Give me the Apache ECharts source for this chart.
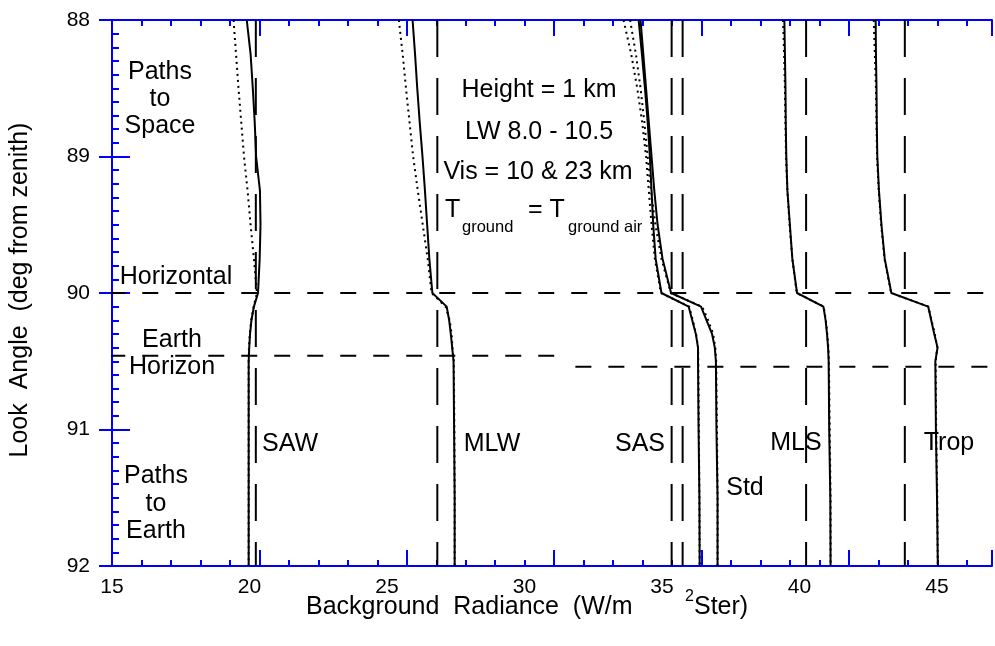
<!DOCTYPE html>
<html>
<head>
<meta charset="utf-8">
<script src="https://cdn.jsdelivr.net/npm/echarts@6/dist/echarts.min.js"></script>
<style>
html,body{margin:0;padding:0;background:#fff;}
#chart{width:995px;height:646px;}
</style>
</head>
<body>
<div id="chart"></div>
<script>
// ---------------- data ----------------
const lookAngles = [88, 88.25, 88.5, 88.75, 89, 89.25, 89.5, 89.75, 90, 90.1, 90.2, 90.3, 90.4, 90.5, 91, 91.5, 92];

const sawSolid  = [19.90, 20.04, 20.12, 20.19, 20.24, 20.38, 20.40, 20.37, 20.31, 20.16, 20.07, 20.02, 19.99, 19.97, 19.97, 19.97, 19.97];
const sawDotted = [19.42, 19.51, 19.60, 19.70, 19.80, 19.93, 20.04, 20.16, 20.27, 20.15, 20.06, 20.01, 19.98, 19.97, 19.97, 19.97, 19.97];
const mlwSolid  = [25.93, 26.02, 26.10, 26.19, 26.29, 26.38, 26.46, 26.54, 26.65, 27.17, 27.26, 27.32, 27.37, 27.42, 27.44, 27.46, 27.46];
const mlwDotted = [25.43, 25.57, 25.69, 25.82, 25.95, 26.12, 26.30, 26.48, 26.62, 27.13, 27.28, 27.35, 27.38, 27.43, 27.45, 27.46, 27.46];
const sasSolid  = [34.15, 34.27, 34.38, 34.48, 34.56, 34.62, 34.68, 34.77, 34.98, 35.97, 36.10, 36.23, 36.31, 36.31, 36.33, 36.36, 36.37];
const sasDotted = [33.60, 33.88, 34.10, 34.28, 34.42, 34.52, 34.62, 34.74, 34.96, 35.99, 36.12, 36.24, 36.31, 36.32, 36.34, 36.36, 36.37];
const stdSolid  = [34.22, 34.32, 34.42, 34.52, 34.62, 34.72, 34.84, 35.02, 35.33, 36.42, 36.62, 36.82, 36.92, 36.96, 36.98, 37.02, 37.02];
const stdDotted = [33.84, 34.05, 34.22, 34.36, 34.48, 34.60, 34.76, 34.98, 35.32, 36.46, 36.68, 36.86, 36.94, 36.97, 37.00, 37.02, 37.02];
const mlsSolid  = [39.45, 39.47, 39.49, 39.50, 39.52, 39.56, 39.65, 39.74, 39.91, 40.87, 40.95, 41.00, 41.04, 41.06, 41.08, 41.12, 41.13];
const mlsDotted = [39.40, 39.44, 39.47, 39.49, 39.51, 39.56, 39.64, 39.74, 39.90, 40.88, 40.96, 41.01, 41.05, 41.07, 41.10, 41.13, 41.13];
const tropSolid = [42.77, 42.78, 42.80, 42.81, 42.83, 42.89, 42.98, 43.10, 43.34, 44.68, 44.79, 44.90, 45.02, 44.94, 44.96, 45.00, 45.03];
const tropDotted= [42.70, 42.74, 42.78, 42.80, 42.82, 42.88, 42.97, 43.09, 43.33, 44.69, 44.80, 44.92, 45.01, 44.95, 44.97, 45.01, 45.03];

const atmospheres = ['SAW', 'MLW', 'SAS', 'Std', 'MLS', 'Trop'];
const groundAirRadiance = [20.23, 26.83, 35.35, 35.75, 40.24, 43.83];

const horizontalAngle = 90;
const earthHorizonAngles = [90.46, 90.54];
const earthHorizonXRanges = [[14.9, 31.56], [31.85, 47]];

const xTickLabels = [15, 20, 25, 30, 35, 40, 45];
const yTickLabels = [88, 89, 90, 91, 92];

// ---------------- chart ----------------
const FONT = 'Liberation Sans, Arial, Helvetica, sans-serif';
const BLUE = '#0000ff';
const chart = echarts.init(document.getElementById('chart'), null, {renderer: 'canvas'});

function pairs(xs) { return xs.map((v, i) => [v, lookAngles[i]]); }

const curveSets = [
  [sawSolid, sawDotted], [mlwSolid, mlwDotted], [sasSolid, sasDotted],
  [stdSolid, stdDotted], [mlsSolid, mlsDotted], [tropSolid, tropDotted]
];

const series = [];
// vertical dashed ground-air lines
groundAirRadiance.forEach((r, i) => {
  series.push({
    name: atmospheres[i] + ' Tground air', type: 'line', xAxisIndex: 0, yAxisIndex: 0,
    data: [[r, yTickLabels[0]], [r, yTickLabels[yTickLabels.length - 1]]],
    symbol: 'none', silent: true, z: 2,
    lineStyle: {color: '#000', width: 2, type: [37, 21]}
  });
});
// horizontal dashed lines
series.push({
  name: 'Horizontal', type: 'line', data: [[14.9, horizontalAngle], [47, horizontalAngle]],
  symbol: 'none', silent: true, z: 2, clip: false, lineStyle: {color: '#000', width: 2, type: [16, 17]}
});
earthHorizonAngles.forEach((a, i) => {
  series.push({
    name: 'Earth Horizon ' + i, type: 'line',
    data: [[earthHorizonXRanges[i][0], a], [earthHorizonXRanges[i][1], a]],
    symbol: 'none', silent: true, z: 2, clip: false, lineStyle: {color: '#000', width: 2, type: [16, 17]}
  });
});
// radiance curves
curveSets.forEach((set, i) => {
  series.push({
    name: atmospheres[i] + ' 10 km', type: 'line', data: pairs(set[1]),
    symbol: 'none', z: 3, lineStyle: {color: '#000', width: 2, type: [2, 4]}
  });
  series.push({
    name: atmospheres[i] + ' 23 km', type: 'line', data: pairs(set[0]),
    symbol: 'none', z: 4, lineStyle: {color: '#000', width: 2, type: 'solid'}
  });
});

const tickAxisBase = {
  type: 'value', min: 0, max: 29.85, interval: 5,
  axisLabel: {show: false},
  axisLine: {show: true, lineStyle: {color: BLUE, width: 2}},
  axisTick: {show: true, inside: true, length: 16, lineStyle: {color: BLUE, width: 2}},
  minorTick: {show: true, splitNumber: 5, length: 6, lineStyle: {color: BLUE, width: 2}},
  splitLine: {show: false}, minorSplitLine: {show: false}
};

const textStyle = (x, y, txt, size, extra) => Object.assign({
  type: 'text', x: x, y: y, silent: true,
  style: Object.assign({text: txt, fill: '#000', font: size + 'px ' + FONT, textAlign: 'center', textVerticalAlign: 'middle'}, extra || {})
});

const option = {
  animation: false,
  backgroundColor: '#fff',
  grid: {left: 112, top: 20, width: 884, height: 546, containLabel: false},
  xAxis: [
    {
      type: 'value', position: 'bottom', min: 15, max: 47, interval: 5,
      axisLine: {show: false}, axisTick: {show: false}, splitLine: {show: false},
      axisLabel: {
        show: true, margin: 11, color: '#000', fontSize: 21, fontFamily: FONT,
        formatter: v => (xTickLabels.indexOf(v) >= 0 ? String(v) : '')
      }
    },
    Object.assign({position: 'bottom'}, tickAxisBase),
    Object.assign({position: 'top'}, tickAxisBase)
  ],
  yAxis: [
    {
      type: 'value', position: 'left', min: 88, max: 92, interval: 1, inverse: true,
      axisLine: {show: true, lineStyle: {color: BLUE, width: 2}},
      axisTick: {show: true, inside: true, length: 18, lineStyle: {color: BLUE, width: 2}},
      minorTick: {show: true, splitNumber: 10, length: 7, lineStyle: {color: BLUE, width: 2}},
      splitLine: {show: false},
      axisLabel: {
        show: true, margin: 22, color: '#000', fontSize: 21, fontFamily: FONT,
        formatter: v => (yTickLabels.indexOf(v) >= 0 ? String(v) : '')
      }
    },
    {
      type: 'value', position: 'right', min: 88, max: 92, interval: 1, inverse: true,
      axisLine: {show: true, lineStyle: {color: BLUE, width: 2}},
      axisTick: {show: true, inside: true, length: 13, lineStyle: {color: BLUE, width: 2}},
      axisLabel: {show: false}, splitLine: {show: false}
    }
  ],
  series: series,
  graphic: [
    // axis titles
    textStyle(20, 290, 'Look  Angle  (deg from zenith)', 25, {}),
    textStyle(306, 607, 'Background  Radiance  (W/m', 25, {textAlign: 'left'}),
    textStyle(685, 597, '2', 16, {textAlign: 'left'}),
    textStyle(694, 607, 'Ster)', 25, {textAlign: 'left'}),
    // region annotations
    textStyle(160, 99, 'Paths\nto\nSpace', 25, {lineHeight: 27}),
    textStyle(176, 277, 'Horizontal', 25, {}),
    textStyle(172, 354, 'Earth\nHorizon', 25, {lineHeight: 27}),
    textStyle(156, 504, 'Paths\nto\nEarth', 25, {lineHeight: 27.5}),
    // atmosphere labels
    textStyle(290, 444, atmospheres[0], 25, {}),
    textStyle(492, 444, atmospheres[1], 25, {}),
    textStyle(640, 444, atmospheres[2], 25, {}),
    textStyle(745, 488, atmospheres[3], 25, {}),
    textStyle(796, 443, atmospheres[4], 25, {}),
    textStyle(949, 443, atmospheres[5], 25, {}),
    // condition block
    textStyle(539, 90, 'Height = 1 km', 25, {}),
    textStyle(539, 132, 'LW 8.0 - 10.5', 25, {}),
    textStyle(538, 172, 'Vis = 10 & 23 km', 25, {}),
    textStyle(445, 210, 'T', 25, {textAlign: 'left'}),
    textStyle(462, 227, 'ground', 16.5, {textAlign: 'left'}),
    textStyle(528, 210, '= T', 25, {textAlign: 'left'}),
    textStyle(568, 227, 'ground air', 16.5, {textAlign: 'left'})
  ]
};
// rotate y title
option.graphic[0].rotation = Math.PI / 2;
chart.setOption(option);
</script>
</body>
</html>
